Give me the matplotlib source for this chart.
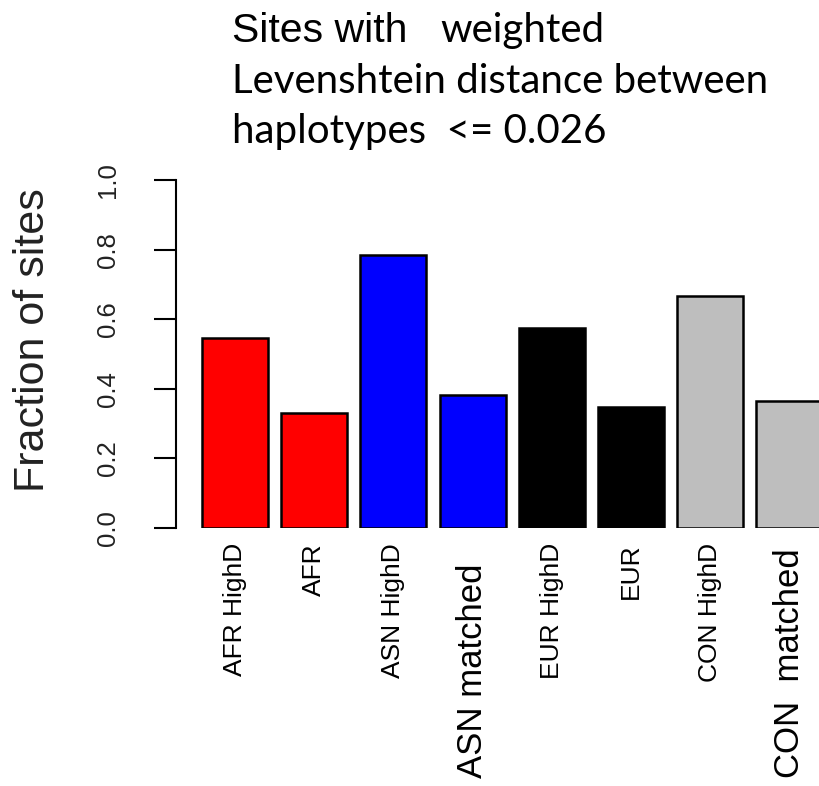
import numpy as np
import matplotlib
matplotlib.use("Agg")
import matplotlib.pyplot as plt
import matplotlib.transforms as mtransforms

# fraction of sites per group
groups = ["AFR HighD", "AFR", "ASN HighD", "ASN matched",
          "EUR HighD", "EUR", "CON HighD", "CON  matched"]
fractions = [0.545, 0.33, 0.785, 0.383, 0.575, 0.348, 0.667, 0.365]
bar_colors = ["red", "red", "blue", "blue", "black", "black", "#BEBEBE", "#BEBEBE"]
big_label = [False, False, False, True, False, False, False, True]
yticks = [0.0, 0.2, 0.4, 0.6, 0.8, 1.0]

W, H = 820, 786
fig = plt.figure(figsize=(W / 100, H / 100), dpi=100)
# axes placed in pixel terms (left edge = y axis line)
ax = fig.add_axes([176 / W, 1 - 528 / H, 1 - 176 / W, (528 - 180) / H])

# barplot style positions: width 1, space 0.2
x = 0.7 + 1.2 * np.arange(len(groups))
ax.bar(x, fractions, width=1.0, color=bar_colors, edgecolor="black", linewidth=1.8)
ax.set_xlim(0.2 - 26 / 66, 0.2 + (820 - 202) / 66)
ax.set_ylim(0, 1)

for s in ["top", "right", "bottom"]:
    ax.spines[s].set_visible(False)
ax.spines["left"].set_bounds(0, 1)
ax.spines["left"].set_linewidth(1.5)
ax.set_xticks([])
ax.set_yticks(yticks)
ax.set_yticklabels(["%.1f" % v for v in yticks], rotation=90, va="center",
                   fontsize=18.5, family="Liberation Sans", color="#222222")
ax.tick_params(axis="y", length=16, width=1.5, pad=24)

# group names under the bars
trans = mtransforms.blended_transform_factory(ax.transData, fig.transFigure)
for xi, name, big in zip(x, groups, big_label):
    if big:
        ax.text(xi, 1 - 778 / H, name, rotation=90, ha="center", va="bottom",
                fontsize=25, family="Liberation Sans", transform=trans)
    else:
        ax.text(xi, 1 - 543 / H, name, rotation=90, ha="center", va="top",
                fontsize=19, family="Liberation Sans", transform=trans)

fig.text(33 / W, 1 - 340 / H, "Fraction of sites", rotation=90, ha="center",
         va="center", fontsize=31, family="Liberation Sans", color="#222222")

# title, three lines
fig.text(232 / W, 1 - 42 / H, "Sites with", fontsize=29.5, family="Liberation Sans",
         va="baseline", ha="left")
fig.text(440 / W, 1 - 42 / H, "weighted", fontsize=29, family="Lato",
         va="baseline", ha="left")
fig.text(232 / W, 1 - 93 / H, "Levenshtein distance between", fontsize=29,
         family="Lato", va="baseline", ha="left")
fig.text(232 / W, 1 - 143 / H, "haplotypes  <= 0.026", fontsize=29,
         family="Lato", va="baseline", ha="left")

fig.savefig("out.png", dpi=100)
